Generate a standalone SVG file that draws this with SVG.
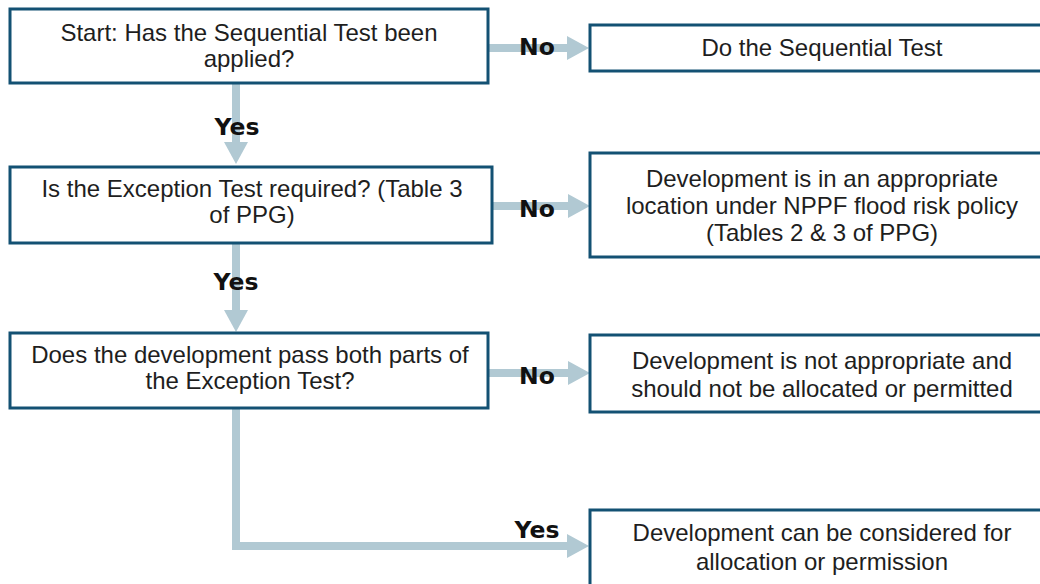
<svg xmlns="http://www.w3.org/2000/svg" width="1040" height="584" viewBox="0 0 1040 584">
<defs>
<style>
.box{fill:#ffffff;stroke:#135173;stroke-width:3}
.t{font-family:"Liberation Sans",Arial,sans-serif;font-size:24px;fill:#1e1e1e;text-anchor:middle}
.lbl{font-family:"DejaVu Sans",Verdana,sans-serif;font-weight:bold;font-size:23.5px;fill:#111111;text-anchor:middle}
.conn{fill:none;stroke:#b1c9d3;stroke-width:8;stroke-linejoin:miter}
</style>
<marker id="ah" viewBox="0 0 22 24" refX="0" refY="12" markerWidth="22" markerHeight="24" markerUnits="userSpaceOnUse" orient="auto">
<path d="M0,0 L22,12 L0,24 Z" fill="#b1c9d3"/>
</marker>
</defs>
<rect width="1040" height="584" fill="#ffffff"/>
<g id="connectors">
<line class="conn" x1="488" y1="48" x2="567" y2="48" marker-end="url(#ah)"/>
<line class="conn" x1="236" y1="84" x2="236" y2="142" marker-end="url(#ah)"/>
<line class="conn" x1="493" y1="206" x2="568" y2="206" marker-end="url(#ah)"/>
<line class="conn" x1="236" y1="244" x2="236" y2="310" marker-end="url(#ah)"/>
<line class="conn" x1="488" y1="373" x2="568" y2="373" marker-end="url(#ah)"/>
<path class="conn" d="M236,409 V546 H567" marker-end="url(#ah)"/>
<text class="lbl" x="537" y="55">No</text>
<text class="lbl" x="237" y="135">Yes</text>
<text class="lbl" x="537" y="217">No</text>
<text class="lbl" x="236" y="290">Yes</text>
<text class="lbl" x="537" y="384">No</text>
<text class="lbl" x="537" y="538">Yes</text>
</g>
<g id="n1">
<rect class="box" x="10" y="9" width="478" height="74"/>
<text class="t" x="249" y="41">Start: Has the Sequential Test been</text>
<text class="t" x="249" y="67">applied?</text>
</g>
<g id="n2">
<rect class="box" x="590" y="25" width="470" height="46"/>
<text class="t" x="822" y="56">Do the Sequential Test</text>
</g>
<g id="n3">
<rect class="box" x="10" y="167" width="482" height="76"/>
<text class="t" x="252" y="197">Is the Exception Test required? (Table 3</text>
<text class="t" x="252" y="223">of PPG)</text>
</g>
<g id="n4">
<rect class="box" x="590" y="153" width="470" height="104"/>
<text class="t" x="822" y="187">Development is in an appropriate</text>
<text class="t" x="822" y="214">location under NPPF flood risk policy</text>
<text class="t" x="822" y="241">(Tables 2 &amp; 3 of PPG)</text>
</g>
<g id="n5">
<rect class="box" x="10" y="333" width="478" height="75"/>
<text class="t" x="250" y="363">Does the development pass both parts of</text>
<text class="t" x="250" y="389">the Exception Test?</text>
</g>
<g id="n6">
<rect class="box" x="590" y="335" width="470" height="77"/>
<text class="t" x="822" y="369">Development is not appropriate and</text>
<text class="t" x="822" y="397">should not be allocated or permitted</text>
</g>
<g id="n7">
<rect class="box" x="590" y="510" width="470" height="90"/>
<text class="t" x="822" y="541">Development can be considered for</text>
<text class="t" x="822" y="570">allocation or permission</text>
</g>
</svg>
